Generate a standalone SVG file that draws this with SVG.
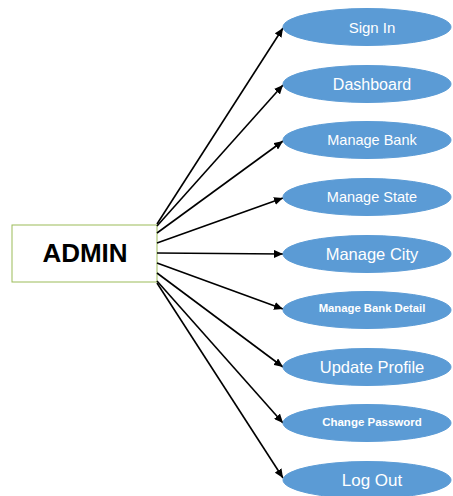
<svg xmlns="http://www.w3.org/2000/svg" width="453" height="496" viewBox="0 0 453 496">
<defs>
<marker id="ah" markerUnits="userSpaceOnUse" markerWidth="9" markerHeight="8" refX="9" refY="4" orient="auto">
<path d="M0,0 L9,4 L0,8 Z" fill="#000"/>
</marker>
<style>
.uc ellipse{fill:#5B9BD5;stroke:#5B9BD5;stroke-width:1}
.uc text{fill:#ffffff;font-family:"Liberation Sans",Arial,sans-serif;text-anchor:middle}
.b{font-weight:bold}
#connectors line{stroke:#000;stroke-width:1.6;marker-end:url(#ah)}
</style>
</defs>
<rect width="453" height="496" fill="#ffffff"/>
<g id="admin">
<rect x="12" y="225" width="145" height="57" fill="#ffffff" stroke="#9BBB59" stroke-width="1"/>
<text x="85" y="262" font-family="'Liberation Sans',Arial,sans-serif" font-size="26" font-weight="bold" text-anchor="middle" fill="#000">ADMIN</text>
</g>
<g id="connectors">
<line x1="157" y1="224" x2="283" y2="28"/>
<line x1="157" y1="226" x2="283" y2="85"/>
<line x1="157" y1="233" x2="283" y2="141"/>
<line x1="157" y1="243" x2="283" y2="198"/>
<line x1="157" y1="253" x2="283" y2="254"/>
<line x1="157" y1="263" x2="283" y2="309"/>
<line x1="157" y1="273" x2="283" y2="367"/>
<line x1="157" y1="281" x2="283" y2="423"/>
<line x1="157" y1="283" x2="283" y2="478"/>
</g>
<g id="signin" class="uc"><ellipse cx="367" cy="27" rx="84" ry="18.5"/><text x="372" y="32.5" font-size="15">Sign In</text></g>
<g id="dashboard" class="uc"><ellipse cx="367" cy="84" rx="84" ry="18.5"/><text x="372" y="89.5" font-size="16">Dashboard</text></g>
<g id="managebank" class="uc"><ellipse cx="367" cy="140" rx="84" ry="18.5"/><text x="372" y="145" font-size="14.5">Manage Bank</text></g>
<g id="managestate" class="uc"><ellipse cx="367" cy="197" rx="84" ry="18.5"/><text x="372" y="202" font-size="14.5">Manage State</text></g>
<g id="managecity" class="uc"><ellipse cx="367" cy="254" rx="84" ry="18.5"/><text x="372" y="259.5" font-size="16.5">Manage City</text></g>
<g id="managebankdetail" class="uc"><ellipse cx="367" cy="310" rx="84" ry="18.5"/><text class="b" x="372" y="312" font-size="11.3">Manage Bank Detail</text></g>
<g id="updateprofile" class="uc"><ellipse cx="367" cy="367" rx="84" ry="18.5"/><text x="372" y="372.5" font-size="16.5">Update Profile</text></g>
<g id="changepassword" class="uc"><ellipse cx="367" cy="423" rx="84" ry="18.5"/><text class="b" x="372" y="426" font-size="11.5">Change Password</text></g>
<g id="logout" class="uc"><ellipse cx="367" cy="480" rx="84" ry="18.5"/><text x="372" y="486" font-size="17">Log Out</text></g>
</svg>
